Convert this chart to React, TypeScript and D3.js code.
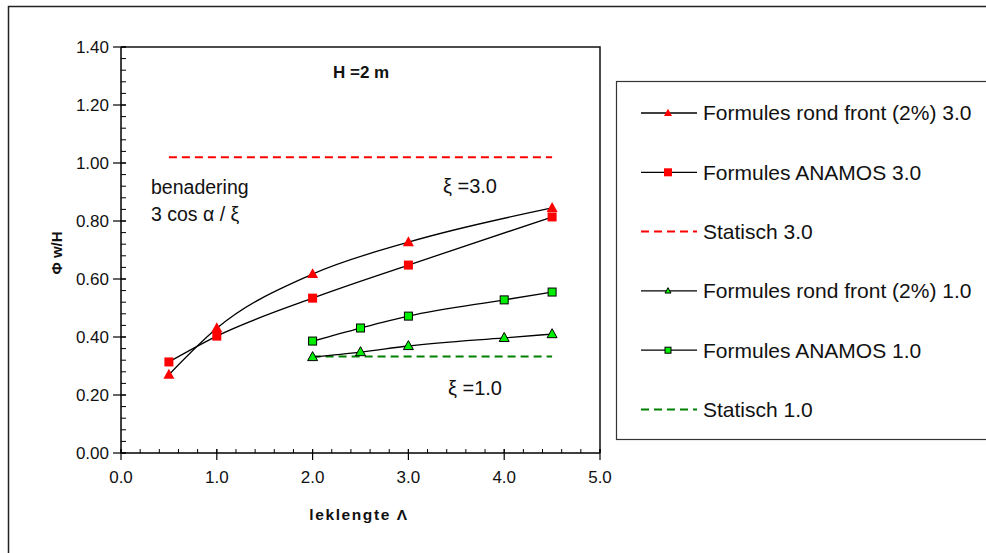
import { useEffect, useRef } from 'react'
import * as d3 from 'd3'

type Pt = { x: number; y: number }

const leklengteA = [0.5, 1.0, 2.0, 3.0, 4.5]
const rondFront30 = [0.27, 0.43, 0.617, 0.727, 0.845]
const anamos30 = [0.314, 0.403, 0.534, 0.648, 0.814]

const leklengteB = [2.0, 2.5, 3.0, 4.0, 4.5]
const anamos10 = [0.386, 0.431, 0.472, 0.528, 0.555]
const rondFront10 = [0.331, 0.348, 0.369, 0.397, 0.41]

const statisch30 = { x: [0.5, 4.5], y: 1.02 }
const statisch10 = { x: [2.0, 4.5], y: 0.333 }

const yTicks = [0, 0.2, 0.4, 0.6, 0.8, 1.0, 1.2, 1.4]
const xTicks = [0, 1, 2, 3, 4, 5]

const legendItems = [
  { label: 'Formules rond front (2%) 3.0', marker: 'triangle', fill: '#ff0000', stroke: 'none', dash: null, color: '#000' },
  { label: 'Formules ANAMOS 3.0', marker: 'square', fill: '#ff0000', stroke: 'none', dash: null, color: '#000' },
  { label: 'Statisch 3.0', marker: null, fill: '', stroke: '', dash: '8,5', color: '#ff0000' },
  { label: 'Formules rond front (2%) 1.0', marker: 'triangle', fill: '#00ee00', stroke: '#000', dash: null, color: '#000' },
  { label: 'Formules ANAMOS 1.0', marker: 'square', fill: '#00ee00', stroke: '#000', dash: null, color: '#000' },
  { label: 'Statisch 1.0', marker: null, fill: '', stroke: '', dash: '8,5', color: '#008000' },
]

const FONT = 'Arial, "Liberation Sans", Helvetica, sans-serif'

function zip(xs: number[], ys: number[]): Pt[] {
  return xs.map((x, i) => ({ x, y: ys[i] }))
}

export default function App() {
  const svgRef = useRef<SVGSVGElement | null>(null)
  const width = 986
  const height = 553

  useEffect(() => {
    const svgEl = svgRef.current
    if (!svgEl) return
    const svg = d3.select(svgEl)
    svg.selectAll('*').remove()

    svg.append('rect').attr('width', width).attr('height', height).attr('fill', '#fff')

    // outer chart frame
    svg.append('path')
      .attr('d', `M8.5,${height} V6.5 H${width}`)
      .attr('fill', 'none')
      .attr('stroke', '#222')
      .attr('stroke-width', 1.5)

    const plot = { left: 121, top: 47, right: 600, bottom: 453 }
    const x = d3.scaleLinear().domain([0, 5]).range([plot.left, plot.right])
    const y = d3.scaleLinear().domain([0, 1.4]).range([plot.bottom, plot.top])

    // plot frame top / right
    svg.append('path')
      .attr('d', `M${plot.left},${plot.top} H${plot.right} V${plot.bottom}`)
      .attr('fill', 'none')
      .attr('stroke', '#111')
      .attr('stroke-width', 1.5)

    // y axis
    const yMinor = d3.range(0, 1.4001, 0.04)
    svg.append('g').selectAll('line').data(yMinor).join('line')
      .attr('x1', plot.left).attr('x2', plot.left + 5)
      .attr('y1', (d) => y(d)).attr('y2', (d) => y(d))
      .attr('stroke', '#000').attr('stroke-width', 1)
    svg.append('g').selectAll('line').data(yTicks).join('line')
      .attr('x1', plot.left - 8).attr('x2', plot.left + 5)
      .attr('y1', (d) => y(d)).attr('y2', (d) => y(d))
      .attr('stroke', '#000').attr('stroke-width', 1.2)
    svg.append('g').selectAll('text').data(yTicks).join('text')
      .attr('x', plot.left - 12).attr('y', (d) => y(d))
      .attr('dy', '0.35em')
      .attr('text-anchor', 'end')
      .attr('font-family', FONT).attr('font-size', 17).attr('fill', '#111')
      .text((d) => d3.format('.2f')(d))

    // x axis
    const xMinor = d3.range(0, 5.0001, 0.2)
    svg.append('g').selectAll('line').data(xMinor).join('line')
      .attr('x1', (d) => x(d)).attr('x2', (d) => x(d))
      .attr('y1', plot.bottom - 4).attr('y2', plot.bottom)
      .attr('stroke', '#000').attr('stroke-width', 1)
    svg.append('g').selectAll('line').data(xTicks).join('line')
      .attr('x1', (d) => x(d)).attr('x2', (d) => x(d))
      .attr('y1', plot.bottom - 4).attr('y2', plot.bottom + 7)
      .attr('stroke', '#000').attr('stroke-width', 1.2)
    svg.append('g').selectAll('text').data(xTicks).join('text')
      .attr('x', (d) => x(d)).attr('y', plot.bottom + 30)
      .attr('text-anchor', 'middle')
      .attr('font-family', FONT).attr('font-size', 17).attr('fill', '#111')
      .text((d) => d3.format('.1f')(d))

    svg.append('line')
      .attr('x1', plot.left).attr('x2', plot.left).attr('y1', plot.top).attr('y2', plot.bottom)
      .attr('stroke', '#000').attr('stroke-width', 1.5)
    svg.append('line')
      .attr('x1', plot.left).attr('x2', plot.right).attr('y1', plot.bottom).attr('y2', plot.bottom)
      .attr('stroke', '#000').attr('stroke-width', 1.5)

    // axis titles
    svg.append('text')
      .attr('x', 359).attr('y', 520)
      .attr('text-anchor', 'middle')
      .attr('font-family', FONT).attr('font-size', 15.5).attr('font-weight', 'bold')
      .attr('letter-spacing', 1.6).attr('fill', '#111')
      .text('leklengte Λ')
    svg.append('text')
      .attr('transform', 'translate(62,253) rotate(-90)')
      .attr('text-anchor', 'middle')
      .attr('font-family', FONT).attr('font-size', 15).attr('font-weight', 'bold')
      .attr('fill', '#111')
      .text('Φ w/H')

    // dashed static lines
    const flat = (s: { x: number[]; y: number }) => s.x.map((xv) => ({ x: xv, y: s.y }))
    const straight = d3.line<Pt>().x((d) => x(d.x)).y((d) => y(d.y))
    svg.append('path').attr('d', straight(flat(statisch30)))
      .attr('stroke', '#ff0000').attr('stroke-width', 2).attr('stroke-dasharray', '8,5').attr('fill', 'none')
    svg.append('path').attr('d', straight(flat(statisch10)))
      .attr('stroke', '#008000').attr('stroke-width', 2).attr('stroke-dasharray', '8,5').attr('fill', 'none')

    const smooth = d3.line<Pt>().x((d) => x(d.x)).y((d) => y(d.y)).curve(d3.curveMonotoneX)
    const series = [
      { pts: zip(leklengteA, rondFront30), marker: 'triangle', fill: '#ff0000', stroke: 'none' },
      { pts: zip(leklengteA, anamos30), marker: 'square', fill: '#ff0000', stroke: 'none' },
      { pts: zip(leklengteB, anamos10), marker: 'square', fill: '#00ee00', stroke: '#000' },
      { pts: zip(leklengteB, rondFront10), marker: 'triangle', fill: '#00ee00', stroke: '#000' },
    ]
    series.forEach((s) => {
      svg.append('path').attr('d', smooth(s.pts))
        .attr('fill', 'none').attr('stroke', '#000').attr('stroke-width', 1.3)
    })

    const drawMarker = (g: d3.Selection<SVGGElement, unknown, null, undefined>, kind: string, cx: number, cy: number, fill: string, stroke: string, size: number) => {
      if (kind === 'triangle') {
        const h = size * 0.9
        g.append('path')
          .attr('d', `M${cx},${cy - h * 0.6} L${cx + size / 2},${cy + h * 0.4} L${cx - size / 2},${cy + h * 0.4} Z`)
          .attr('fill', fill).attr('stroke', stroke).attr('stroke-width', 1)
      } else {
        const h = size / 2
        g.append('rect')
          .attr('x', cx - h).attr('y', cy - h).attr('width', size).attr('height', size)
          .attr('fill', fill).attr('stroke', stroke).attr('stroke-width', 1)
      }
    }

    const markers = svg.append('g')
    series.forEach((s) => {
      s.pts.forEach((p) => {
        const sz = s.stroke === 'none' ? (s.marker === 'triangle' ? 11 : 9) : (s.marker === 'triangle' ? 10 : 8)
        drawMarker(markers, s.marker, x(p.x), y(p.y), s.fill, s.stroke, sz)
      })
    })

    // annotations
    const ann = (tx: number, ty: number, t: string, bold = false, size = 17) =>
      svg.append('text').attr('x', tx).attr('y', ty)
        .attr('font-family', FONT).attr('font-size', size)
        .attr('font-weight', bold ? 'bold' : 'normal').attr('fill', '#111')
        .text(t)
    ann(333, 78, 'H  =2 m', true, 17)
    ann(151, 194, 'benadering', false, 19.5)
    ann(151, 221, '3 cos α / ξ', false, 19.5)
    ann(443, 193, 'ξ  =3.0', false, 20)
    ann(448, 395, 'ξ  =1.0', false, 20)

    // legend
    svg.append('rect')
      .attr('x', 616.5).attr('y', 81.5).attr('width', 400).attr('height', 358)
      .attr('fill', '#fff').attr('stroke', '#333').attr('stroke-width', 1.2)
    const leg = svg.append('g')
    legendItems.forEach((it, i) => {
      const ly = 113 + i * 59.3
      leg.append('line')
        .attr('x1', 641).attr('x2', 697).attr('y1', ly).attr('y2', ly)
        .attr('stroke', it.color).attr('stroke-width', it.dash ? 2 : 1.3)
        .attr('stroke-dasharray', it.dash ?? null)
      if (it.marker) {
        drawMarker(leg, it.marker, 668, ly, it.fill, it.stroke, it.stroke === 'none' ? 8 : 6)
      }
      leg.append('text')
        .attr('x', 703).attr('y', ly).attr('dy', '0.35em')
        .attr('font-family', FONT).attr('font-size', 21).attr('fill', '#111')
        .text(it.label)
    })
  }, [])

  return (
    <div style={{ position: 'absolute', left: 0, top: 0 }}>
      <svg ref={svgRef} width={width} height={height} style={{ display: 'block' }} />
    </div>
  )
}
